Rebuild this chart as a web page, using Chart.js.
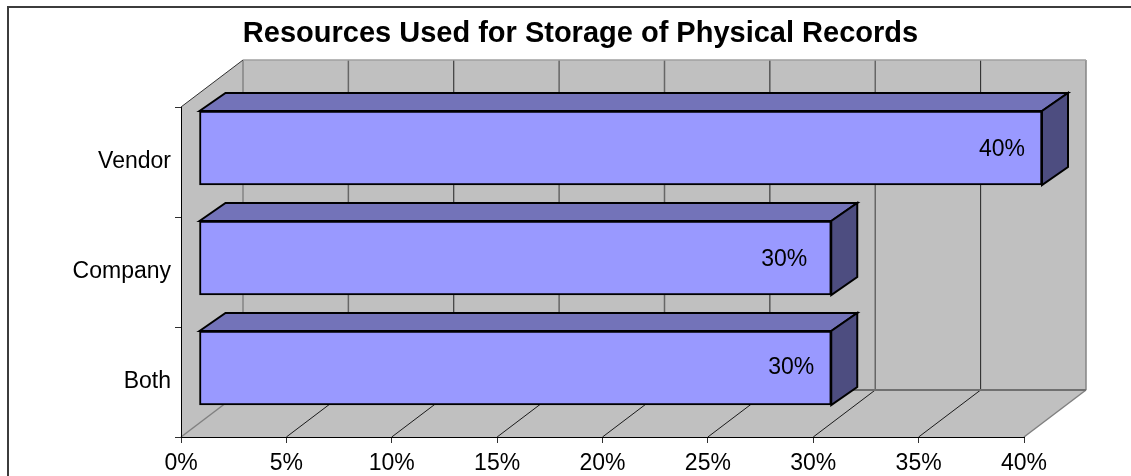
<!DOCTYPE html>
<html>
<head>
<meta charset="utf-8">
<title>Resources Used for Storage of Physical Records</title>
<script src="https://cdn.jsdelivr.net/npm/chart.js@4"></script>
<style>
    html, body { margin: 0; padding: 0; background: #fff; overflow: hidden; }
    #wrap { width: 1131px; height: 476px; }
</style>
</head>
<body>
<div id="wrap"><canvas id="myChart" width="1131" height="476"></canvas></div>
<script>
const titleText = "Resources Used for Storage of Physical Records";
const categories = ["Vendor", "Company", "Both"];
const shares = [40, 30, 30];
const shareLabels = ["40%", "30%", "30%"];
const xMax = 40;
const xStep = 5;

// fake 3D: how far the walls and the bars are pushed back
const wallDx = 62, wallDy = -47;
const barShiftX = 18, barShiftY = -14;
const barDx = 26, barDy = -18;

// back wall lines that come out thin and dark
const thinLines = [2, 5, 7];

const FONT = '"Liberation Sans", Arial, sans-serif';

function poly(ctx, pts, fill, stroke, width) {
    ctx.beginPath();
    pts.forEach((p, i) => i ? ctx.lineTo(p[0], p[1]) : ctx.moveTo(p[0], p[1]));
    ctx.closePath();
    if (fill) { ctx.fillStyle = fill; ctx.fill(); }
    if (stroke) { ctx.strokeStyle = stroke; ctx.lineWidth = width; ctx.stroke(); }
}

function line(ctx, x1, y1, x2, y2, color, width) {
    ctx.beginPath();
    ctx.moveTo(x1, y1);
    ctx.lineTo(x2, y2);
    ctx.strokeStyle = color;
    ctx.lineWidth = width;
    ctx.stroke();
}

const box3d = {
    id: 'box3d',
    beforeDraw(chart) {
        const ctx = chart.ctx, a = chart.chartArea, x = chart.scales.x;
        ctx.save();
        // frame only has a left and a top edge on this page
        line(ctx, 8, 6, 8, 476, '#3c3c3c', 2);
        line(ctx, 7, 7, 1131, 7, '#3c3c3c', 2);

        ctx.fillStyle = '#000';
        ctx.font = 'bold 29px ' + FONT;
        ctx.textAlign = 'center';
        ctx.textBaseline = 'middle';
        ctx.fillText(titleText, 580.5, 34);

        // side wall, floor, back wall
        poly(ctx, [[a.left, a.top], [a.left + wallDx, a.top + wallDy], [a.left + wallDx, a.bottom + wallDy], [a.left, a.bottom]], '#c0c0c0');
        poly(ctx, [[a.left, a.bottom], [a.left + wallDx, a.bottom + wallDy], [a.right + wallDx, a.bottom + wallDy], [a.right, a.bottom]], '#c0c0c0');
        ctx.fillStyle = '#c0c0c0';
        ctx.fillRect(a.left + wallDx, a.top + wallDy, a.right - a.left, a.bottom - a.top);

        x.ticks.forEach((t, i) => {
            const px = x.getPixelForValue(t.value);
            const edge = i === 0 || i === x.ticks.length - 1;
            const thin = thinLines.includes(i);
            const c = edge ? '#858585' : (thin ? '#222' : '#666');
            line(ctx, px + wallDx, a.top + wallDy, px + wallDx, a.bottom + wallDy, c, thin ? 1 : 1.5);
            line(ctx, px, a.bottom, px + wallDx, a.bottom + wallDy, edge ? '#808080' : '#1a1a1a', edge ? 1.5 : 1);
        });
        line(ctx, a.left + wallDx, a.top + wallDy, a.right + wallDx, a.top + wallDy, '#a0a0a0', 1.5);
        line(ctx, a.left + wallDx, a.bottom + wallDy, a.right + wallDx, a.bottom + wallDy, '#707070', 2);
        line(ctx, a.left, a.top, a.left + wallDx, a.top + wallDy, '#303030', 1);
        ctx.restore();
    },
    beforeDatasetsDraw(chart) {
        chart.ctx.save();
        chart.ctx.translate(barShiftX, barShiftY);
    },
    afterDatasetsDraw(chart) {
        const ctx = chart.ctx;
        chart.getDatasetMeta(0).data.forEach((bar, i) => {
            const top = bar.y - bar.height / 2, bottom = bar.y + bar.height / 2;
            poly(ctx, [[bar.base, top], [bar.base + barDx, top + barDy], [bar.x + barDx, top + barDy], [bar.x, top]], '#7373b9', '#000', 2);
            poly(ctx, [[bar.x, top], [bar.x + barDx, top + barDy], [bar.x + barDx, bottom + barDy], [bar.x, bottom]], '#4d4d80', '#000', 2);
            ctx.fillStyle = '#000';
            ctx.font = '23px ' + FONT;
            ctx.textAlign = 'right';
            ctx.textBaseline = 'middle';
            ctx.fillText(shareLabels[i], bar.x - (i === 1 ? 24 : 17), bar.y + (i === 2 ? 0 : 2));
        });
        ctx.restore();
    }
};

const ctx = document.getElementById("myChart").getContext('2d');

const myChart = new Chart(ctx, {
    type: 'bar',
    data: {
        labels: categories,
        datasets: [{
            data: shares,
            backgroundColor: '#9999ff',
            borderColor: '#000',
            borderWidth: 2,
            borderSkipped: false,
            barThickness: 74,
            clip: false
        }]
    },
    options: {
        indexAxis: 'y',
        responsive: false,
        animation: false,
        layout: { padding: { top: 107, right: 107, bottom: 0, left: 0 } },
        plugins: { legend: { display: false }, tooltip: { enabled: false } },
        scales: {
            x: {
                min: 0,
                max: xMax,
                afterFit(scale) { scale.height = 39; },
                ticks: {
                    stepSize: xStep,
                    maxRotation: 0,
                    padding: 7,
                    color: '#000',
                    font: { family: FONT, size: 23 },
                    callback: (v) => v + '%'
                },
                grid: { drawOnChartArea: false, tickLength: 6, color: '#303030' },
                border: { color: '#000', width: 1 }
            },
            y: {
                afterFit(scale) { scale.width = 181; },
                ticks: {
                    padding: 4,
                    color: '#000',
                    font: { family: FONT, size: 23 }
                },
                grid: { drawOnChartArea: false, tickLength: 6, color: '#303030' },
                border: { color: '#000', width: 1 }
            }
        }
    },
    plugins: [box3d]
});
</script>
</body>
</html>
